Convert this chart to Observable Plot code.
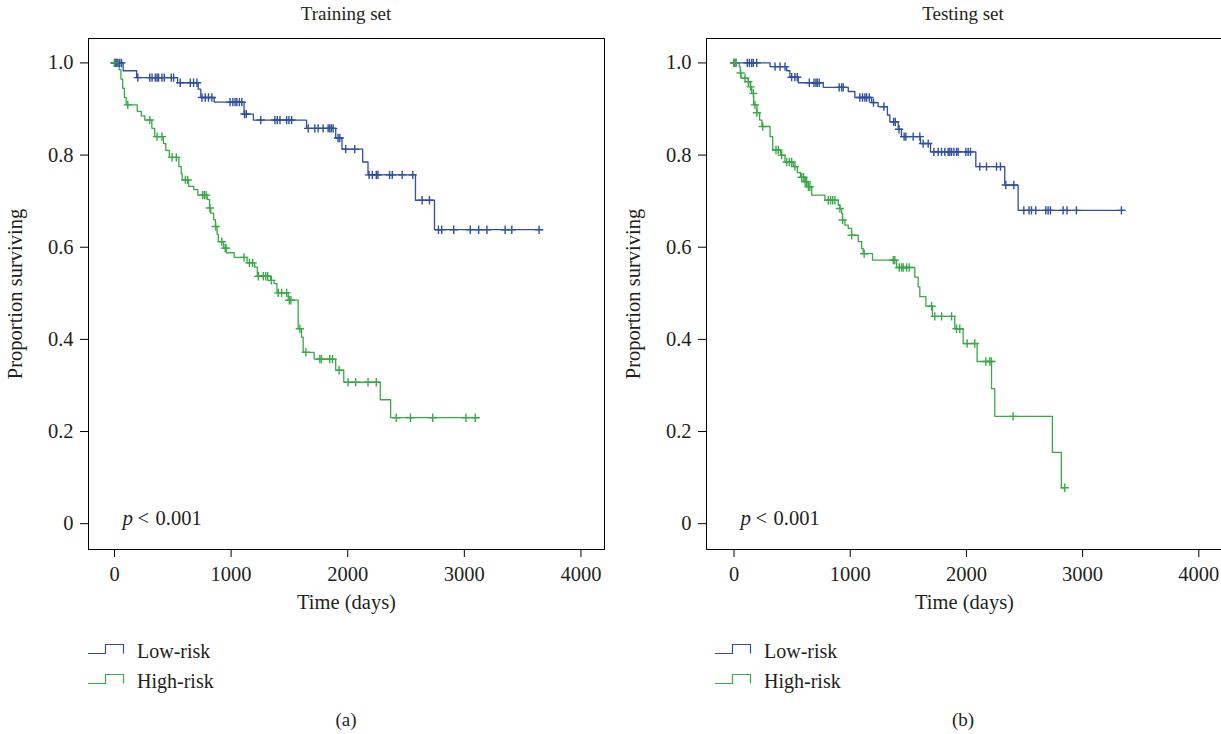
<!DOCTYPE html>
<html><head><meta charset="utf-8">
<script src="https://cdn.jsdelivr.net/npm/d3@7"></script>
<script src="https://cdn.jsdelivr.net/npm/@observablehq/plot@0.6"></script>
<style>
html,body{margin:0;padding:0;background:#fff;}
body{width:1221px;height:734px;overflow:hidden;position:relative;font-family:"Liberation Serif",serif;color:#231f20;}
.abs{position:absolute;white-space:nowrap;line-height:1;}
.panel{width:612px;}
.panel svg{max-width:none !important;}
.title{font-size:19px;transform:translate(-50%,-50%);}
.leg{font-size:20px;transform:translateY(-50%);}
</style></head><body>
<div id="pa" class="abs panel" style="left:0;top:0"></div>
<div id="pb" class="abs panel" style="left:618px;top:0"></div>
<div id="extras"></div>
<script>
// ---------- data ----------
const panelTitles = ["Training set", "Testing set"];
const panelCaptions = ["(a)", "(b)"];
const seriesNames = ["Low-risk", "High-risk"];
const xTicks = [0, 1000, 2000, 3000, 4000];
const xTickLabels = ["0", "1000", "2000", "3000", "4000"];
const yTicks = [0, 0.2, 0.4, 0.6, 0.8, 1.0];
const yTickLabels = ["0", "0.2", "0.4", "0.6", "0.8", "1.0"];
const pText = ["p", "<", "0.001"];

// Training set, low-risk
const trainLowT = [0,74,190,541,718,740,855,1111,1191,1647,1897,1951,2128,2174,2581,2744,3669];
const trainLowS = [1,0.983,0.968,0.957,0.943,0.925,0.915,0.889,0.876,0.858,0.837,0.813,0.785,0.757,0.702,0.638,0.638];
const trainLowCens = [0,10,20,30,45,60,200,302,322,350,365,378,407,427,487,507,564,650,678,707,750,778,806,835,991,1015,1034,1049,1071,1092,1115,1130,1254,1376,1396,1419,1476,1496,1519,1661,1718,1746,1789,1832,1846,1860,1875,1917,1932,1983,2060,2183,2211,2245,2259,2359,2382,2467,2558,2638,2701,2778,2806,2909,3051,3123,3194,3350,3407,3641];

// Training set, high-risk
const trainHighT = [0,40,55,70,85,100,195,230,260,320,345,420,440,470,552,572,580,635,680,715,795,815,825,850,865,880,890,935,960,1026,1137,1202,1225,1339,1368,1393,1490,1575,1604,1618,1712,1897,1966,2279,2368,3128];
const trainHighS = [1,0.985,0.965,0.945,0.925,0.909,0.895,0.885,0.876,0.858,0.840,0.825,0.810,0.795,0.775,0.760,0.746,0.732,0.725,0.713,0.704,0.685,0.674,0.660,0.645,0.628,0.612,0.598,0.588,0.578,0.566,0.557,0.537,0.528,0.521,0.501,0.485,0.423,0.405,0.372,0.357,0.333,0.307,0.269,0.230,0.230];
const trainHighCens = [0,114,303,365,407,493,530,608,628,755,770,785,818,868,920,949,957,1111,1157,1185,1234,1276,1297,1314,1345,1404,1433,1476,1499,1513,1590,1641,1761,1775,1846,1869,1926,2003,2068,2174,2245,2416,2538,2729,3014,3094];

// Testing set, low-risk
const testLowT = [0,310,453,481,553,768,983,1040,1184,1240,1320,1341,1413,1441,1605,1691,2081,2330,2445,3362];
const testLowS = [1,0.992,0.983,0.969,0.957,0.947,0.938,0.925,0.914,0.905,0.887,0.872,0.856,0.840,0.825,0.807,0.775,0.735,0.680,0.680];
const testLowCens = [0,17,114,132,152,166,195,353,396,439,496,524,544,648,688,705,716,733,905,926,940,1083,1106,1126,1141,1164,1200,1290,1374,1388,1420,1464,1479,1542,1599,1628,1671,1720,1757,1786,1814,1843,1857,1872,1892,1915,1929,1995,2015,2035,2115,2173,2259,2293,2339,2408,2494,2539,2560,2597,2683,2703,2723,2832,2866,2947,3334];

// Testing set, high-risk
const testHighT = [0,45,54,60,123,140,152,169,197,220,240,310,333,401,438,510,545,573,610,639,668,782,897,911,926,934,954,983,1012,1069,1098,1112,1192,1399,1556,1585,1599,1651,1708,1900,1972,2092,2216,2244,2740,2817,2846];
const testHighS = [1,0.992,0.978,0.967,0.959,0.948,0.934,0.909,0.892,0.876,0.862,0.840,0.811,0.800,0.785,0.775,0.762,0.752,0.742,0.731,0.713,0.702,0.691,0.684,0.673,0.659,0.648,0.641,0.626,0.612,0.597,0.586,0.572,0.556,0.535,0.514,0.493,0.472,0.450,0.423,0.391,0.352,0.293,0.233,0.155,0.078,0.078];
const testHighCens = [0,10,57,95,123,143,166,180,197,247,361,381,410,453,476,496,524,582,598,612,625,640,653,811,831,849,868,911,934,1012,1120,1370,1384,1422,1442,1456,1485,1507,1700,1728,1786,1872,1915,1943,2006,2072,2167,2201,2215,2402,2846];

// ---------- styles ----------
const BLUE = "#2f4f9f";
const GREEN = "#3aa948";
const INK = "#231f20";
const FONT = "Liberation Serif, serif";

function steps(T, S) { return T.map((t, i) => ({t, s: S[i]})); }
function cens(T, S, C) {
  return C.map(c => {
    let k = 0;
    for (let i = 0; i < T.length; i++) if (T[i] <= c) k = i;
    return {t: c, s: S[k]};
  });
}

function panel(xDomain, low, high, lowC, highC) {
  return Plot.plot({
    width: 612, height: 620,
    marginLeft: 88, marginRight: 8, marginTop: 38, marginBottom: 71,
    x: {domain: xDomain},
    y: {domain: [-0.056, 1.053]},
    style: {fontFamily: FONT, fontSize: "20px", color: INK, background: "white", overflow: "visible", maxWidth: "none"},
    marks: [
      Plot.frame({stroke: "#000", strokeWidth: 1}),
      Plot.axisX({ticks: xTicks, tickSize: 8, tickPadding: 9, stroke: "#000",
        tickFormat: d => xTickLabels[xTicks.indexOf(d)],
        label: "Time (days)", labelAnchor: "center", labelArrow: "none", labelOffset: 59, fontSize: 20.5}),
      Plot.axisY({ticks: yTicks, tickSize: 8, tickPadding: 7, stroke: "#000",
        tickFormat: d => yTickLabels[yTicks.indexOf(d)],
        label: "Proportion surviving", labelAnchor: "center", labelArrow: "none", labelOffset: 81, fontSize: 20.5}),
      Plot.line(steps(...low), {x: "t", y: "s", curve: "step-after", stroke: BLUE, strokeWidth: 1.3}),
      Plot.line(steps(...high), {x: "t", y: "s", curve: "step-after", stroke: GREEN, strokeWidth: 1.3}),
      Plot.dot(cens(...low, lowC), {x: "t", y: "s", symbol: "plus", r: 2.8, stroke: BLUE, strokeWidth: 1.4}),
      Plot.dot(cens(...high, highC), {x: "t", y: "s", symbol: "plus", r: 2.8, stroke: GREEN, strokeWidth: 1.4}),
      Plot.text([pText[0]], {frameAnchor: "bottom-left", dx: 34, dy: -31, text: d => d, fontStyle: "italic", textAnchor: "start", lineAnchor: "middle", fontSize: 21, fill: INK}),
      Plot.text([pText[1]], {frameAnchor: "bottom-left", dx: 49, dy: -31, text: d => d, textAnchor: "start", lineAnchor: "middle", fontSize: 20.5, fill: INK}),
      Plot.text([pText[2]], {frameAnchor: "bottom-left", dx: 67, dy: -31, text: d => d, textAnchor: "start", lineAnchor: "middle", fontSize: 20.5, fill: INK})
    ]
  });
}

document.getElementById("pa").appendChild(panel([-223, 4202], [trainLowT, trainLowS], [trainHighT, trainHighS], trainLowCens, trainHighCens));
document.getElementById("pb").appendChild(panel([-237, 4204], [testLowT, testLowS], [testHighT, testHighS], testLowCens, testHighCens));

// titles, legends, captions
const extras = document.getElementById("extras");
const centers = [346, 963];
const legLeft = [88, 715];
function add(html, style, cls) {
  const d = document.createElement("div");
  d.className = "abs " + (cls || "");
  d.setAttribute("style", style);
  d.innerHTML = html;
  extras.appendChild(d);
}
const glyph = c => `<svg width="37" height="12" style="display:block"><path d="M0,10.5H17.5V1.5H35.5V10.5" fill="none" stroke="${c}" stroke-width="1.2"/></svg>`;
[0, 1].forEach(p => {
  add(panelTitles[p], `left:${centers[p]}px;top:13px;`, "title");
  add(panelCaptions[p], `left:${centers[p]}px;top:719px;`, "title");
  [BLUE, GREEN].forEach((c, j) => {
    const y = 651 + j * 30;
    add(glyph(c), `left:${legLeft[p]}px;top:${y - 8}px;`);
    add(seriesNames[j], `left:${legLeft[p] + 49}px;top:${y}px;`, "leg");
  });
});
</script>
</body></html>
